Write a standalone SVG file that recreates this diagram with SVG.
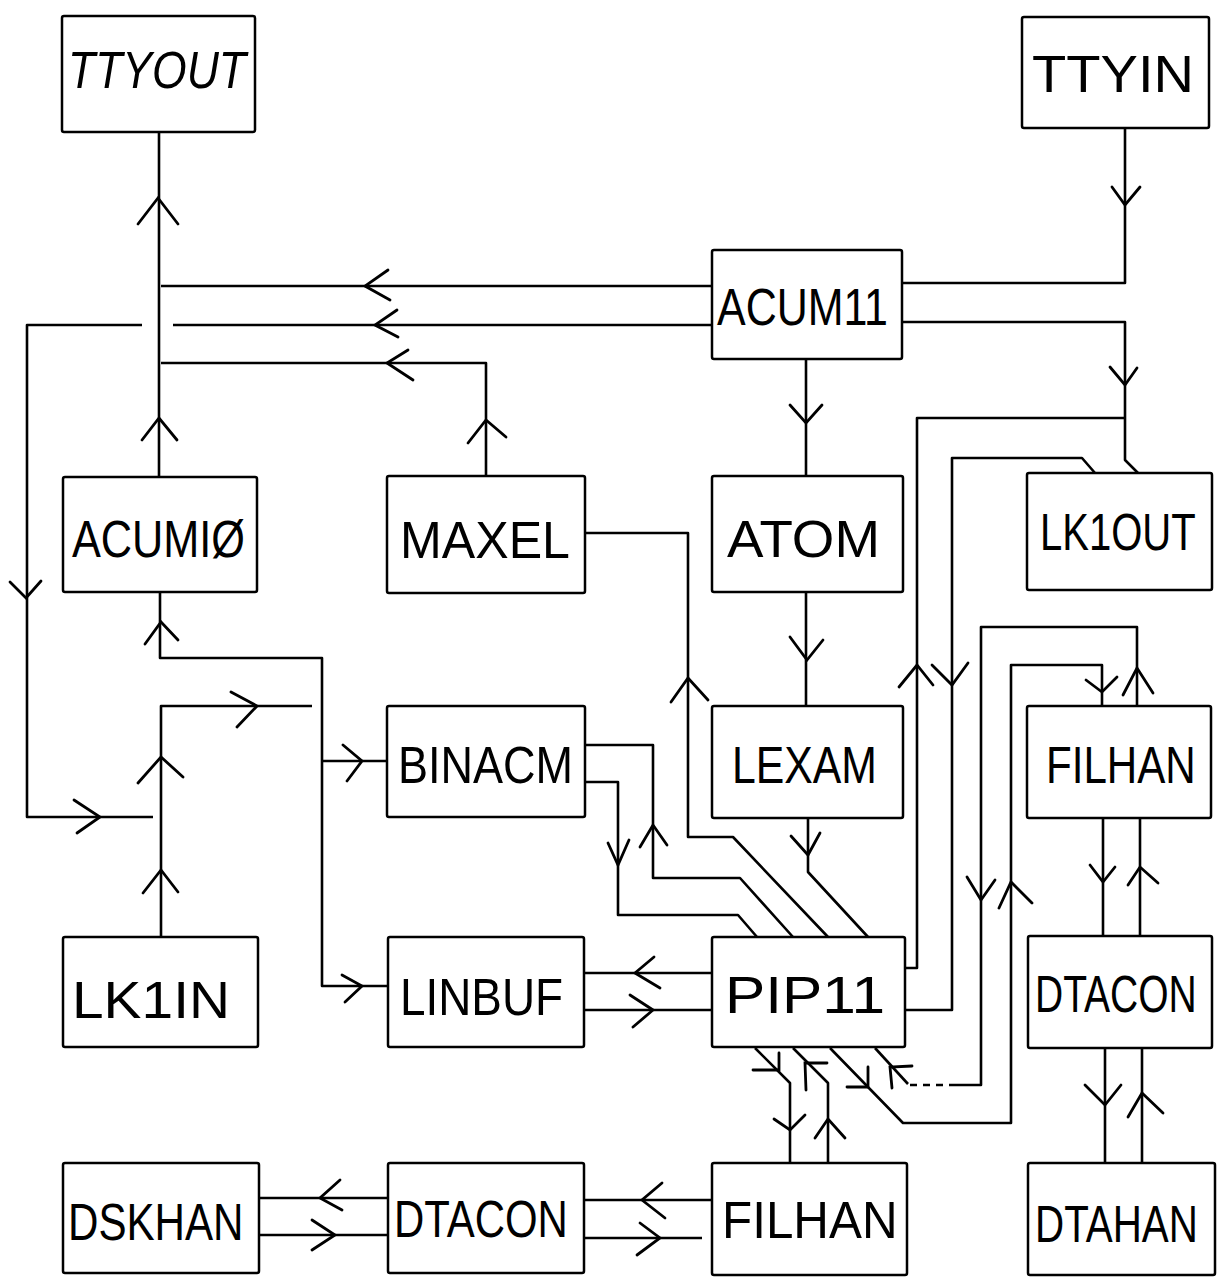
<svg xmlns="http://www.w3.org/2000/svg" width="1220" height="1277" viewBox="0 0 1220 1277">
<style>
.box{fill:#fff;stroke:#000;stroke-width:2.5}
.lbl{font-family:"Liberation Sans",Arial,sans-serif;font-size:52px;fill:#000}
.ln{fill:none;stroke:#000;stroke-width:2.6;stroke-linejoin:round}
.ar{fill:none;stroke:#000;stroke-width:2.8;stroke-linejoin:miter;stroke-linecap:round}
</style>
<rect width="1220" height="1277" fill="#fff"/>
<g id="connectors">
<path class="ln" d="M159,132 V477"/>
<path class="ln" d="M712,286 H161"/>
<path class="ln" d="M712,325 H173 M142,325 H27 V817 H153"/>
<path class="ln" d="M486,476 V363 H161"/>
<path class="ln" d="M1125,128 V283 H902"/>
<path class="ln" d="M902,322 H1125 V460 L1138,473"/>
<path class="ln" d="M1125,418 H917 V968 H905"/>
<path class="ln" d="M1095,473 L1082,458 H952 V1010 H905"/>
<path class="ln" d="M806,359 V476"/>
<path class="ln" d="M806,592 V706"/>
<path class="ln" d="M808,818 V872 L868,937"/>
<path class="ln" d="M585,533 H688 V837 H733 L828,937"/>
<path class="ln" d="M585,745 H653 V878 H740 L793,937"/>
<path class="ln" d="M585,782 H618 V915 H738 L757,937"/>
<path class="ln" d="M160,592 V658 H322 V986 H388"/>
<path class="ln" d="M322,761 H388"/>
<path class="ln" d="M161,937 V706 H312"/>
<path class="ln" d="M584,973 H712 M584,1010 H712"/>
<path class="ln" d="M260,1198 H388 M260,1235 H388"/>
<path class="ln" d="M584,1200 H712 M584,1238 H702"/>
<path class="ln" d="M755,1048 L790,1083 V1163"/>
<path class="ln" d="M793,1048 L828,1083 V1163"/>
<path class="ln" d="M830,1048 L903,1123 H1011 V665 H1102 V706"/>
<path class="ln" d="M875,1048 L908,1084"/>
<path class="ln" d="M910,1085 H956" stroke-dasharray="7 6"/>
<path class="ln" d="M956,1085 H981 V627 H1137 V706"/>
<path class="ln" d="M1103,818 V936 M1140,818 V936"/>
<path class="ln" d="M1105,1048 V1163 M1142,1048 V1163"/>
<path class="ar" d="M138,224 L158,198 L178,224"/>
<path class="ar" d="M142,440 L159,418 L177,440"/>
<path class="ar" d="M388,270 L365,286 L390,300"/>
<path class="ar" d="M397,310 L375,325 L398,337"/>
<path class="ar" d="M408,350 L387,363 L413,380"/>
<path class="ar" d="M468,443 L486,420 L506,437"/>
<path class="ar" d="M1112,187 L1125,205 L1140,187"/>
<path class="ar" d="M1110,367 L1125,385 L1137,368"/>
<path class="ar" d="M790,405 L806,423 L822,405"/>
<path class="ar" d="M790,637 L807,660 L823,640"/>
<path class="ar" d="M791,836 L808,855 L820,833"/>
<path class="ar" d="M10,582 L26,598 L41,581"/>
<path class="ar" d="M74,800 L100,817 L77,833"/>
<path class="ar" d="M145,644 L161,622 L178,640"/>
<path class="ar" d="M343,745 L362,761 L347,781"/>
<path class="ar" d="M342,975 L362,986 L345,1002"/>
<path class="ar" d="M138,783 L161,757 L183,777"/>
<path class="ar" d="M143,893 L161,870 L178,892"/>
<path class="ar" d="M231,692 L257,706 L237,727"/>
<path class="ar" d="M671,702 L688,678 L708,700"/>
<path class="ar" d="M640,847 L653,825 L667,845"/>
<path class="ar" d="M608,843 L618,865 L629,840"/>
<path class="ar" d="M899,687 L917,665 L933,685"/>
<path class="ar" d="M932,665 L952,685 L968,663"/>
<path class="ar" d="M1086,680 L1102,692 L1117,677"/>
<path class="ar" d="M1123,695 L1137,668 L1153,693"/>
<path class="ar" d="M654,957 L635,973 L660,988"/>
<path class="ar" d="M630,995 L653,1010 L633,1027"/>
<path class="ar" d="M1090,865 L1103,882 L1115,867"/>
<path class="ar" d="M1128,885 L1140,867 L1158,883"/>
<path class="ar" d="M1085,1085 L1105,1105 L1121,1085"/>
<path class="ar" d="M1128,1117 L1142,1093 L1163,1113"/>
<path class="ar" d="M967,877 L981,900 L995,880"/>
<path class="ar" d="M999,908 L1011,882 L1032,903"/>
<path class="ar" d="M779,1053 L779,1070 L753,1070"/>
<path class="ar" d="M806,1090 L805,1063 L827,1063"/>
<path class="ar" d="M868,1067 L868,1087 L847,1087"/>
<path class="ar" d="M892,1088 L890,1067 L912,1066"/>
<path class="ar" d="M774,1119 L790,1130 L805,1115"/>
<path class="ar" d="M815,1138 L828,1119 L845,1138"/>
<path class="ar" d="M340,1180 L320,1198 L342,1210"/>
<path class="ar" d="M312,1220 L335,1235 L312,1250"/>
<path class="ar" d="M662,1183 L642,1200 L665,1218"/>
<path class="ar" d="M640,1223 L660,1238 L637,1255"/>
</g>
<g id="TTYOUT"><rect class="box" x="62" y="16" width="193" height="116" rx="2"/><text class="lbl" x="68" y="88" textLength="178" lengthAdjust="spacingAndGlyphs" font-style="italic">TTYOUT</text></g>
<g id="TTYIN"><rect class="box" x="1022" y="17" width="187" height="111" rx="2"/><text class="lbl" x="1032" y="92" textLength="162" lengthAdjust="spacingAndGlyphs">TTYIN</text></g>
<g id="ACUM11"><rect class="box" x="712" y="250" width="190" height="109" rx="2"/><text class="lbl" x="717" y="325" textLength="171" lengthAdjust="spacingAndGlyphs">ACUM11</text></g>
<g id="ACUMI0"><rect class="box" x="63" y="477" width="194" height="115" rx="2"/><text class="lbl" x="72" y="557" textLength="173" lengthAdjust="spacingAndGlyphs">ACUMIØ</text></g>
<g id="MAXEL"><rect class="box" x="387" y="476" width="198" height="117" rx="2"/><text class="lbl" x="400" y="558" textLength="170" lengthAdjust="spacingAndGlyphs">MAXEL</text></g>
<g id="ATOM"><rect class="box" x="712" y="476" width="191" height="116" rx="2"/><text class="lbl" x="727" y="557" textLength="153" lengthAdjust="spacingAndGlyphs">ATOM</text></g>
<g id="LK1OUT"><rect class="box" x="1027" y="473" width="185" height="117" rx="2"/><text class="lbl" transform="translate(1040,550) scale(0.77,1)">LK1OUT</text></g>
<g id="BINACM"><rect class="box" x="387" y="706" width="198" height="111" rx="2"/><text class="lbl" x="398" y="783" textLength="175" lengthAdjust="spacingAndGlyphs">BINACM</text></g>
<g id="LEXAM"><rect class="box" x="712" y="706" width="191" height="112" rx="2"/><text class="lbl" x="732" y="783" textLength="145" lengthAdjust="spacingAndGlyphs">LEXAM</text></g>
<g id="FILHAN1"><rect class="box" x="1027" y="706" width="184" height="112" rx="2"/><text class="lbl" transform="translate(1046,783) scale(0.81,1)">FILHAN</text></g>
<g id="LK1IN"><rect class="box" x="63" y="937" width="195" height="110" rx="2"/><text class="lbl" x="72" y="1018" textLength="158" lengthAdjust="spacingAndGlyphs">LK1IN</text></g>
<g id="LINBUF"><rect class="box" x="388" y="937" width="196" height="110" rx="2"/><text class="lbl" x="400" y="1015" textLength="163" lengthAdjust="spacingAndGlyphs">LINBUF</text></g>
<g id="PIP11"><rect class="box" x="712" y="937" width="193" height="110" rx="2"/><text class="lbl" x="725" y="1013" textLength="160" lengthAdjust="spacingAndGlyphs">PIP11</text></g>
<g id="DTACON1"><rect class="box" x="1028" y="936" width="184" height="112" rx="2"/><text class="lbl" transform="translate(1035,1012) scale(0.75,1)">DTACON</text></g>
<g id="DSKHAN"><rect class="box" x="63" y="1163" width="196" height="110" rx="2"/><text class="lbl" transform="translate(68,1240) scale(0.81,1)">DSKHAN</text></g>
<g id="DTACON2"><rect class="box" x="388" y="1163" width="196" height="110" rx="2"/><text class="lbl" transform="translate(394,1237) scale(0.806,1)">DTACON</text></g>
<g id="FILHAN2"><rect class="box" x="712" y="1163" width="195" height="112" rx="2"/><text class="lbl" transform="translate(722,1238) scale(0.95,1)">FILHAN</text></g>
<g id="DTAHAN"><rect class="box" x="1028" y="1163" width="187" height="112" rx="2"/><text class="lbl" transform="translate(1035,1242) scale(0.776,1)">DTAHAN</text></g>
</svg>
